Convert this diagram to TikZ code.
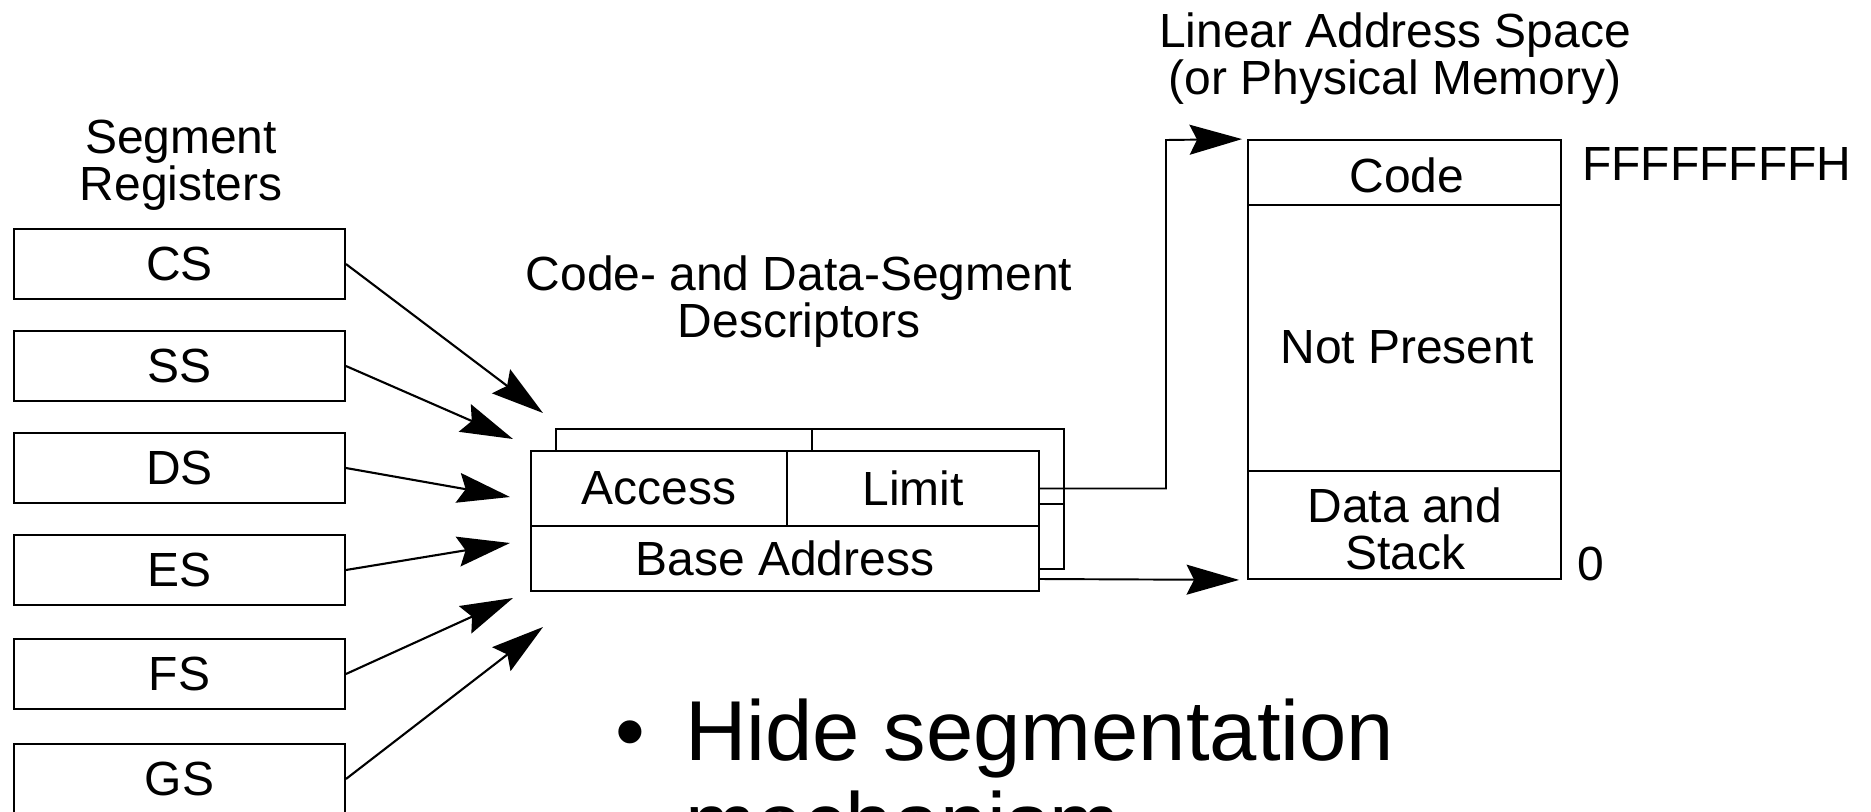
\documentclass[tikz,border=0pt]{standalone}
\usepackage{fontspec}
\setmainfont{Liberation Sans}
\usetikzlibrary{arrows.meta}

\tikzset{
  lbl/.style={font=\fontsize{27.3}{26.2}\selectfont, inner sep=0pt, align=center},
  bigtxt/.style={font=\fontsize{48.4}{52.3}\selectfont, inner sep=0pt},
  reg/.style={draw, line width=1.1pt, fill=white, inner sep=0pt,
    minimum width=6.62cm, minimum height=1.4cm, font=\fontsize{27.3}{26.2}\selectfont},
  cell/.style={draw, line width=1.1pt, fill=white, inner sep=0pt, align=center,
    font=\fontsize{27.3}{26.2}\selectfont},
  link/.style={line width=1.2pt, -{Stealth[length=1.05cm,width=0.6cm,inset=0.15cm]}},
}

\begin{document}
\begin{tikzpicture}[x=0.02cm, y=-0.02cm]
\useasboundingbox (0,0) rectangle (1871,811);
\clip (0,0) rectangle (1871,811);

% segment registers (base anchor of a two-line label = last baseline)
\node[lbl, anchor=base] (regtitle) at (181,200) {Segment\\Registers};
\node[reg] (cs) at (179.5,264) {CS};
\node[reg] (ss) at (179.5,366) {SS};
\node[reg] (ds) at (179.5,468) {DS};
\node[reg] (es) at (179.5,570) {ES};
\node[reg] (fs) at (179.5,674) {FS};
\node[reg] (gs) at (179.5,779) {GS};

% descriptor table: one descriptor stacked behind another
\node[lbl, anchor=base] (desctitle) at (799,337) {Code- and Data-Segment\\Descriptors};
\node[cell, minimum width=5.12cm, minimum height=1.5cm] (baccess) at (684,466.5) {};
\node[cell, minimum width=5.04cm, minimum height=1.5cm] (blimit) at (938,466.5) {};
\node[cell, minimum width=10.16cm, minimum height=1.3cm] (bbase) at (810,536.5) {};
\node[cell, minimum width=5.12cm, minimum height=1.5cm] (access) at (659,488.5) {Access};
\node[cell, minimum width=5.04cm, minimum height=1.5cm] (limit) at (913,488.5) {Limit};
\node[cell, minimum width=10.16cm, minimum height=1.3cm] (base) at (785,558.5) {Base Address};

% linear address space
\node[lbl, anchor=base] (memtitle) at (1395,94) {Linear Address Space\\(or Physical Memory)};
\node[cell, minimum width=6.26cm, minimum height=1.3cm] (code) at (1404.5,172.5) {};
\node[cell, minimum width=6.26cm, minimum height=5.32cm] (np) at (1404.5,338) {};
\node[cell, minimum width=6.26cm, minimum height=2.16cm] (data) at (1404.5,525) {};
\node[lbl, anchor=base] (codetxt) at (1407,192) {Code};
\node[lbl, anchor=base] (nptxt) at (1407,363) {Not Present};
\node[lbl, anchor=base] (datatxt) at (1405,569) {Data and\\Stack};
\node[lbl, anchor=base west] (hiaddr) at (1582,180) {FFFFFFFFH};
\node[lbl, anchor=base west] (loaddr) at (1577,580) {0};

% selector arrows
\coordinate (tcs) at (543,413);
\coordinate (tss) at (513,439);
\coordinate (tds) at (510,497);
\coordinate (tes) at (510,543);
\coordinate (tfs) at (513,598);
\coordinate (tgs) at (543,627);
\draw[link] (cs.east) -- (tcs);
\draw[link] (ss.east) -- (tss);
\draw[link] (ds.east) -- (tds);
\draw[link] (es.east) -- (tes);
\draw[link] (fs.east) -- (tfs);
\draw[link] (gs.east) -- (tgs);

% limit and base into memory
\coordinate (bend) at (1166,140);
\coordinate (baseout) at (1039,579);
\draw[link, line width=1.1pt, shorten >=0.1cm] (limit.east) -| (bend) -- (code.north west);
\draw[link, line width=1.1pt, shorten >=0.16cm] (baseout) -- (data.south west);

% slide text
\node[bigtxt, anchor=base] (dot) at (630,760) {•};
\node[bigtxt, anchor=base west, align=left] (hide) at (685,852) {Hide segmentation\\mechanism};
\end{tikzpicture}
\end{document}
